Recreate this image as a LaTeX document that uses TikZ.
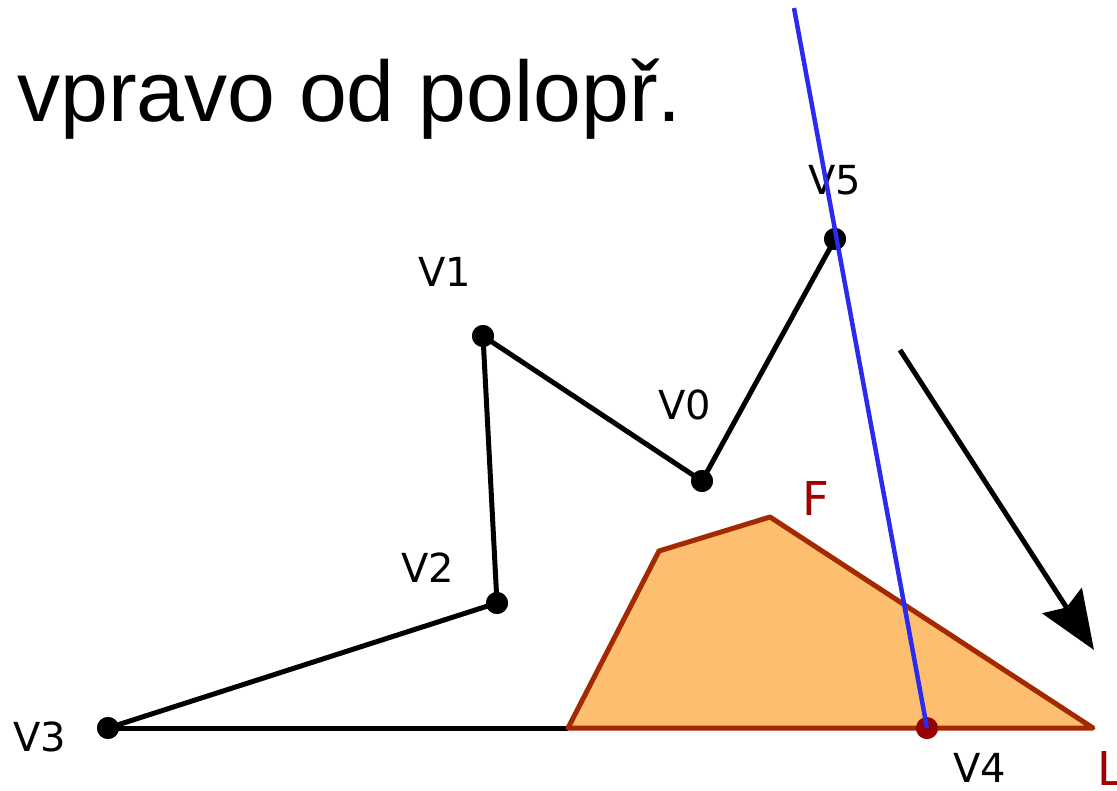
\documentclass[tikz,border=0pt]{standalone}
\usepackage{fontspec}
\setmainfont{Liberation Sans}
\newfontfamily\labfont{DejaVu Sans}
\usetikzlibrary{arrows.meta}
\definecolor{fillor}{HTML}{FDBF6F}
\definecolor{edgered}{HTML}{A32A00}
\definecolor{labred}{HTML}{A00000}
\definecolor{dotred}{HTML}{990000}
\definecolor{rayblue}{HTML}{2A2AF0}
\tikzset{
  vdot/.style={circle,fill=black,inner sep=0pt,minimum size=22*0.75pt},
  vlab/.style={font=\labfont\fontsize{30}{34}\selectfont,inner sep=0pt},
  rlab/.style={font=\labfont\fontsize{35}{40}\selectfont,text=labred,inner sep=0pt},
  edge/.style={line width=5*0.75pt,black,line join=round},
}
\begin{document}
\begin{tikzpicture}[x=0.75pt,y=-0.75pt]
\useasboundingbox (0,0) rectangle (1117,791);
% title
\node[anchor=base west,inner sep=0pt,font=\fontsize{64.5}{70}\selectfont] (title) at (17,122) {vpravo od polopř.};
% polygon corners
\coordinate (p1) at (568,728);
\coordinate (p2) at (659,551);
\coordinate (p3) at (770,517);
\coordinate (p4) at (1093,728);
\coordinate (raytop) at (794,8);
% vertices
\node[vdot] (v0) at (702,481) {};
\node[vdot] (v1) at (483,336) {};
\node[vdot] (v2) at (497,603) {};
\node[vdot] (v3) at (108,728) {};
\node[vdot] (v5) at (835,239) {};
\node[vdot,fill=dotred] (v4) at (927,728) {};
% polyline
\draw[edge] (v3.center) -- (v2.center) -- (v1.center) -- (v0.center) -- (v5.center);
\draw[edge] (v3.center) -- (p1);
% polygon F
\draw[fill=fillor,draw=edgered,line width=5*0.75pt,line join=round] (p1) -- (p2) -- (p3) -- (p4) -- cycle;
% redraw dots on top
\node[vdot] at (v0) {};
\node[vdot] at (v1) {};
\node[vdot] at (v2) {};
\node[vdot] at (v3) {};
\node[vdot] at (v5) {};
\node[vdot,fill=dotred] at (v4) {};
% labels
\node[vlab] (l5) at (835,180) {V5};
\node[vlab] (l1) at (445,272) {V1};
\node[vlab] (l0) at (685,405) {V0};
\node[vlab] (l2) at (428,568) {V2};
\node[vlab] (l3) at (40,737) {V3};
\node[vlab] (l4) at (980,768) {V4};
\node[rlab] (lf) at (816,498) {F};
\node[rlab,anchor=west] (ll) at (1097,768) {L};
% arrow
\coordinate (a1) at (900,350);
\coordinate (a2) at (1094,650);
\draw[line width=5*0.75pt,-{Stealth[length=44pt,width=35pt,inset=6pt]}] (a1) -- (a2);
% blue ray
\draw[rayblue,line width=4.5*0.75pt] (raytop) -- (v4.center);
\end{tikzpicture}
\end{document}
